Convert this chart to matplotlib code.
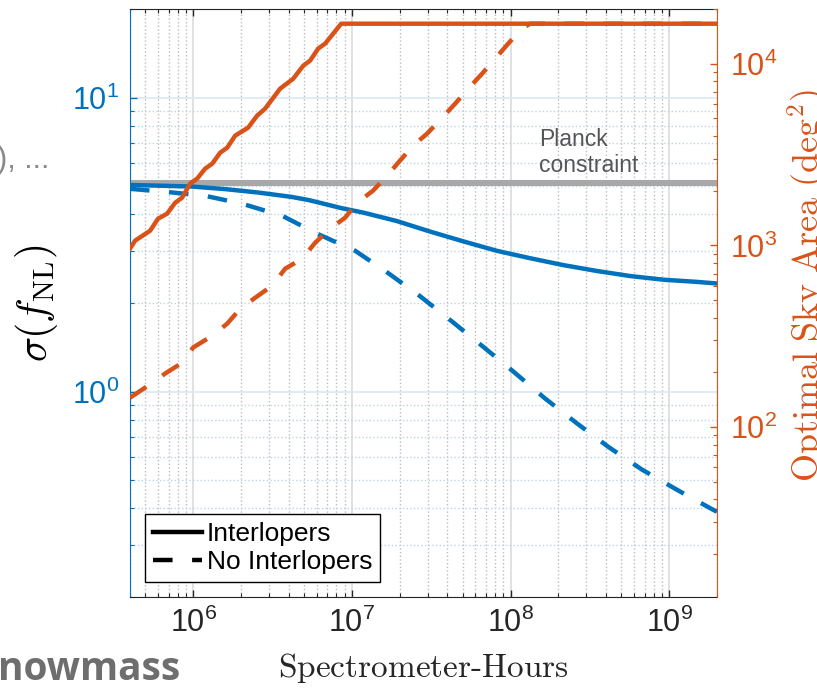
import matplotlib.pyplot as plt
from matplotlib.lines import Line2D

# sigma(fNL) vs spectrometer-hours (left axis)
sig_hours_int = [4.07e5, 9.8e5, 1.59e6, 2.58e6, 4.18e6, 5.33e6, 6.79e6, 8.67e6, 1.18e7, 1.92e7,
                 3.11e7, 5.05e7, 8.2e7, 1.33e8, 2.16e8, 3.50e8, 5.68e8, 9.2e8, 1.49e9, 2.0e9]
sig_int = [5.04, 4.98, 4.88, 4.75, 4.59, 4.48, 4.34, 4.20, 4.06, 3.80,
           3.50, 3.24, 3.01, 2.84, 2.69, 2.57, 2.47, 2.40, 2.36, 2.33]

sig_hours_noint = [4.0e5, 6.66e5, 1.19e6, 2.04e6, 3.64e6, 6.13e6, 1.05e7, 1.69e7, 2.69e7, 4.28e7,
                   6.72e7, 1.04e8, 1.65e8, 2.63e8, 4.12e8, 6.75e8, 1.12e9, 1.89e9, 2.0e9]
sig_noint = [4.89, 4.78, 4.63, 4.35, 3.96, 3.43, 3.01, 2.53, 2.11, 1.73,
             1.42, 1.17, 0.947, 0.778, 0.649, 0.542, 0.463, 0.396, 0.39]

planck_sigma = 5.1

# optimal sky area vs spectrometer-hours (right axis)
area_hours_int = [4.0e5, 4.31e5, 5.36e5, 6.01e5, 6.85e5, 7.71e5, 8.53e5, 9.57e5, 1.06e6, 1.19e6,
                  1.32e6, 1.48e6, 1.64e6, 1.84e6, 2.22e6, 2.53e6, 2.84e6, 3.53e6, 4.27e6, 4.94e6,
                  5.46e6, 6.13e6, 6.79e6, 8.57e6, 2.0e9]
area_int = [960, 1062, 1205, 1403, 1494, 1717, 1832, 2188, 2330, 2643,
            2818, 3237, 3451, 4018, 4444, 5177, 5653, 7283, 8262, 9747,
            10400, 12100, 12900, 16600, 16600]

area_hours_noint = [4.0e5, 5.20e5, 6.66e5, 8.53e5, 1.0e6, 1.32e6, 1.64e6, 1.98e6, 2.46e6, 3.15e6,
                    3.80e6, 4.87e6, 5.88e6, 7.30e6, 9.07e6, 1.08e7, 1.36e7, 1.67e7, 1.96e7, 2.43e7,
                    2.98e7, 3.71e7, 4.48e7, 5.41e7, 6.62e7, 8.00e7, 9.66e7, 1.18e8, 1.33e8, 2.0e9]
area_noint = [145, 169, 197, 226, 274, 318, 371, 448, 515, 600,
              744, 845, 1035, 1236, 1420, 1717, 2000, 2420, 2852, 3537,
              4121, 5047, 6026, 7283, 8810, 10660, 12890, 15590, 16600, 16600]

blue = '#0072BD'
orange = '#D95319'
dash = (4.4, 4.4)

plt.rcParams['font.family'] = ['Liberation Sans', 'DejaVu Sans']
plt.rcParams['mathtext.fontset'] = 'cm'

fig = plt.figure(figsize=(8.17, 6.88), dpi=100)
ax = fig.add_axes([130 / 817, 91 / 688, 587 / 817, 588 / 688])
ax2 = ax.twinx()

# left axis: sigma(fNL)
ax.plot(sig_hours_int, sig_int, color=blue, lw=3.2)
ax.plot(sig_hours_noint, sig_noint, color=blue, lw=3.2, dashes=dash)
ax.axhline(planck_sigma, color='#a8a8a8', lw=4.4, zorder=1.5)
ax.text(1.52e8, 6.5, 'Planck\nconstraint', color='#555555', fontsize=16.5,
        ha='left', va='center', linespacing=1.15)

ax.set_xscale('log')
ax.set_yscale('log')
ax.set_xlim(4e5, 2e9)
ax.set_ylim(0.2, 20)

# MATLAB-like grids
ax.grid(True, which='major', axis='x', color='#dcdcdc', lw=1.2, ls='-')
ax.grid(True, which='minor', axis='x', color='#bdbdbd', lw=1.0, ls=':')
ax.grid(True, which='major', axis='y', color='#d9e7f3', lw=1.2, ls='-')
ax.grid(True, which='minor', axis='y', color='#b9d5ec', lw=1.0, ls=':')
ax.set_axisbelow(True)

ax.tick_params(axis='x', which='both', direction='in', top=True, color='#262626',
               labelcolor='#262626', labelsize=22, pad=8)
ax.tick_params(axis='x', which='major', length=5, width=1)
ax.tick_params(axis='x', which='minor', length=3, width=0.8)
ax.tick_params(axis='y', which='both', direction='in', color=blue, labelcolor=blue,
               labelsize=22, pad=8)
ax.tick_params(axis='y', which='major', length=5, width=1)
ax.tick_params(axis='y', which='minor', length=3, width=0.8)

ax.spines['left'].set_color(blue)
ax.spines['right'].set_visible(False)
ax.spines['top'].set_color('#262626')
ax.spines['bottom'].set_color('#262626')

ax.set_xlabel('$\\mathrm{Spectrometer\\text{-}Hours}$', fontsize=24, color='#262626', labelpad=8)
ax.set_ylabel('$\\sigma(f_{\\mathrm{NL}})$', fontsize=30, color='black', labelpad=8)

# right axis: optimal sky area
ax2.plot(area_hours_int, area_int, color=orange, lw=3.2)
ax2.plot(area_hours_noint, area_noint, color=orange, lw=3.2, dashes=dash)
ax2.set_yscale('log')
ax2.set_ylim(11.6, 2e4)
ax2.tick_params(axis='y', which='both', direction='in', color=orange, labelcolor=orange,
                labelsize=22, pad=9)
ax2.tick_params(axis='y', which='major', length=5, width=1)
ax2.tick_params(axis='y', which='minor', length=3, width=0.8)
for s in ['left', 'top', 'bottom']:
    ax2.spines[s].set_visible(False)
ax2.spines['right'].set_color(orange)
ax2.set_ylabel('$\\mathrm{Optimal\\ Sky\\ Area\\ (deg^2)}$', fontsize=26, color=orange, labelpad=6)
ax2.yaxis.label.set_y(0.53)

handles = [Line2D([], [], color='black', lw=3.2),
           Line2D([], [], color='black', lw=3.2, dashes=dash)]
leg = ax2.legend(handles, ['Interlopers', 'No Interlopers'], loc='lower left',
                 bbox_to_anchor=(0.0256, 0.0255), borderaxespad=0, fontsize=19,
                 handlelength=1.85, handletextpad=0.2, labelspacing=0.15,
                 fancybox=False, framealpha=1, edgecolor='black', borderpad=0.3)
leg.get_frame().set_linewidth(1.0)

# slide fragments around the figure
fig.text(-0.004, 1 - 168 / 688, '), ...', fontsize=22, color='#8a8a8a', ha='left', va='baseline')
fig.text(-0.002, 1 - 680 / 688, 'nowmass', fontsize=28, fontweight='bold', color='#6e6e6e',
         family='Open Sans', ha='left', va='baseline')

fig.savefig('out.png', dpi=100)
